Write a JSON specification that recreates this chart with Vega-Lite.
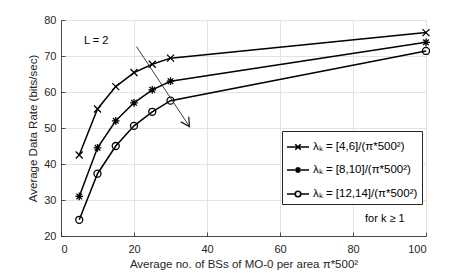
{
  "$schema": "https://vega.github.io/schema/vega-lite/v6.json",
  "width": 365,
  "height": 216,
  "autosize": "none",
  "padding": {"left": 61, "top": 20, "right": 45, "bottom": 37},
  "background": "white",
  "config": {
    "view": {"stroke": null},
    "font": "Liberation Sans",
    "axis": {
      "domainColor": "#262626",
      "tickColor": "#262626",
      "labelColor": "#262626",
      "titleColor": "#262626",
      "gridColor": "#e3e3e3",
      "labelFont": "Liberation Sans",
      "titleFont": "Liberation Sans",
      "labelFontSize": 11,
      "titleFontSize": 11.5,
      "titleFontWeight": "normal",
      "labelOverlap": false,
      "tickSize": -4,
      "domainWidth": 0.8,
      "tickWidth": 0.8
    }
  },
  "datasets": {
    "curves": [
      {"x": 5, "y": 42.5, "series": "s1"},
      {"x": 10, "y": 55.3, "series": "s1"},
      {"x": 15, "y": 61.5, "series": "s1"},
      {"x": 20, "y": 65.4, "series": "s1"},
      {"x": 25, "y": 67.7, "series": "s1"},
      {"x": 30, "y": 69.4, "series": "s1"},
      {"x": 100, "y": 76.5, "series": "s1"},
      {"x": 5, "y": 31.0, "series": "s2"},
      {"x": 10, "y": 44.5, "series": "s2"},
      {"x": 15, "y": 52.0, "series": "s2"},
      {"x": 20, "y": 57.0, "series": "s2"},
      {"x": 25, "y": 60.6, "series": "s2"},
      {"x": 30, "y": 63.0, "series": "s2"},
      {"x": 100, "y": 73.8, "series": "s2"},
      {"x": 5, "y": 24.5, "series": "s3"},
      {"x": 10, "y": 37.3, "series": "s3"},
      {"x": 15, "y": 45.0, "series": "s3"},
      {"x": 20, "y": 50.6, "series": "s3"},
      {"x": 25, "y": 54.5, "series": "s3"},
      {"x": 30, "y": 57.6, "series": "s3"},
      {"x": 100, "y": 71.4, "series": "s3"}
    ],
    "legendrows": [
      {"series": "λₖ = [4,6]/(π*500²)"},
      {"series": "λₖ = [8,10]/(π*500²)"},
      {"series": "λₖ = [12,14]/(π*500²)"}
    ],
    "arrow": [
      {"x": 20.7, "y": 72.6},
      {"x": 35.2, "y": 50.4}
    ],
    "notes": [
      {"x": 6.3, "y": 74.3, "label": "L = 2"},
      {"x": 83.3, "y": 24.6, "label": "for k ≥ 1"}
    ]
  },
  "encoding": {
    "x": {
      "field": "x", "type": "quantitative",
      "scale": {"domain": [0, 100], "nice": false},
      "axis": {"values": [0, 20, 40, 60, 80, 100], "grid": true, "labelPadding": 11, "titlePadding": 4, "title": "Average no. of BSs of MO-0 per area π*500²"}
    },
    "y": {
      "field": "y", "type": "quantitative",
      "scale": {"domain": [20, 80], "nice": false, "zero": false},
      "axis": {"values": [20, 30, 40, 50, 60, 70, 80], "grid": true, "labelPadding": 9, "titlePadding": 5, "title": "Average Data Rate (bits/sec)"}
    }
  },
  "layer": [
    {
      "data": {"name": "curves"},
      "mark": {"type": "line", "color": "black", "strokeWidth": 1.5},
      "encoding": {
        "detail": {"field": "series"}
      }
    },
    {
      "data": {"name": "curves"},
      "mark": {"type": "point", "filled": false, "color": "black", "strokeWidth": 1.3, "size": 49, "opacity": 1},
      "encoding": {
        "shape": {
          "field": "series", "type": "nominal",
          "scale": {"domain": ["s1", "s2", "s3"], "range": [
            "M-1,-1L1,1M-1,1L1,-1",
            "M-1.1,0L1.1,0M0,-1.1L0,1.1M-0.8,-0.8L0.8,0.8M-0.8,0.8L0.8,-0.8",
            "circle"
          ]},
          "legend": null
        }
      }
    },
    {
      "data": {"name": "legendrows"},
      "mark": {"type": "point", "filled": false, "color": "black", "opacity": 0},
      "encoding": {
        "x": {"value": 0},
        "y": {"value": 0},
        "shape": {
          "field": "series", "type": "nominal",
          "scale": {"domain": ["λₖ = [4,6]/(π*500²)", "λₖ = [8,10]/(π*500²)", "λₖ = [12,14]/(π*500²)"], "range": [
            "M-1,0L1,0M-0.25,-0.25L0.25,0.25M-0.25,0.25L0.25,-0.25",
            "M-1,0L1,0M0,-0.28L0,0.28M-0.2,-0.2L0.2,0.2M-0.2,0.2L0.2,-0.2",
            "M-1,0L-0.25,0M0.25,0L1,0M0.25,0A0.25,0.25 0 1 1 -0.25,0A0.25,0.25 0 1 1 0.25,0"
          ]},
          "legend": {
            "title": null,
            "orient": "none",
            "legendX": 221,
            "legendY": 111,
            "padding": 4,
            "strokeColor": "#262626",
            "fillColor": "white",
            "symbolSize": 484,
            "symbolOpacity": 1,
            "symbolStrokeWidth": 1.6,
            "symbolStrokeColor": "black",
            "symbolFillColor": "transparent",
            "labelFont": "Liberation Sans",
            "labelFontSize": 11.5,
            "labelColor": "black",
            "rowPadding": 5,
            "labelOffset": 3
          }
        }
      }
    },
    {
      "data": {"name": "arrow"},
      "mark": {"type": "line", "color": "#404040", "strokeWidth": 1},
      "encoding": {}
    },
    {
      "data": {"name": "arrow"},
      "transform": [{"filter": "datum.y < 60"}],
      "mark": {"type": "point", "shape": "M-1,-0.55L0,0L-1,0.55", "filled": false, "color": "#202020", "strokeWidth": 1.3, "size": 300, "angle": 56.7, "opacity": 1},
      "encoding": {}
    },
    {
      "data": {"name": "notes"},
      "mark": {"type": "text", "align": "left", "baseline": "middle", "font": "Liberation Sans", "fontSize": 11, "color": "black"},
      "encoding": {
        "text": {"field": "label"}
      }
    }
  ],
  "resolve": {"scale": {"shape": "independent"}}
}
